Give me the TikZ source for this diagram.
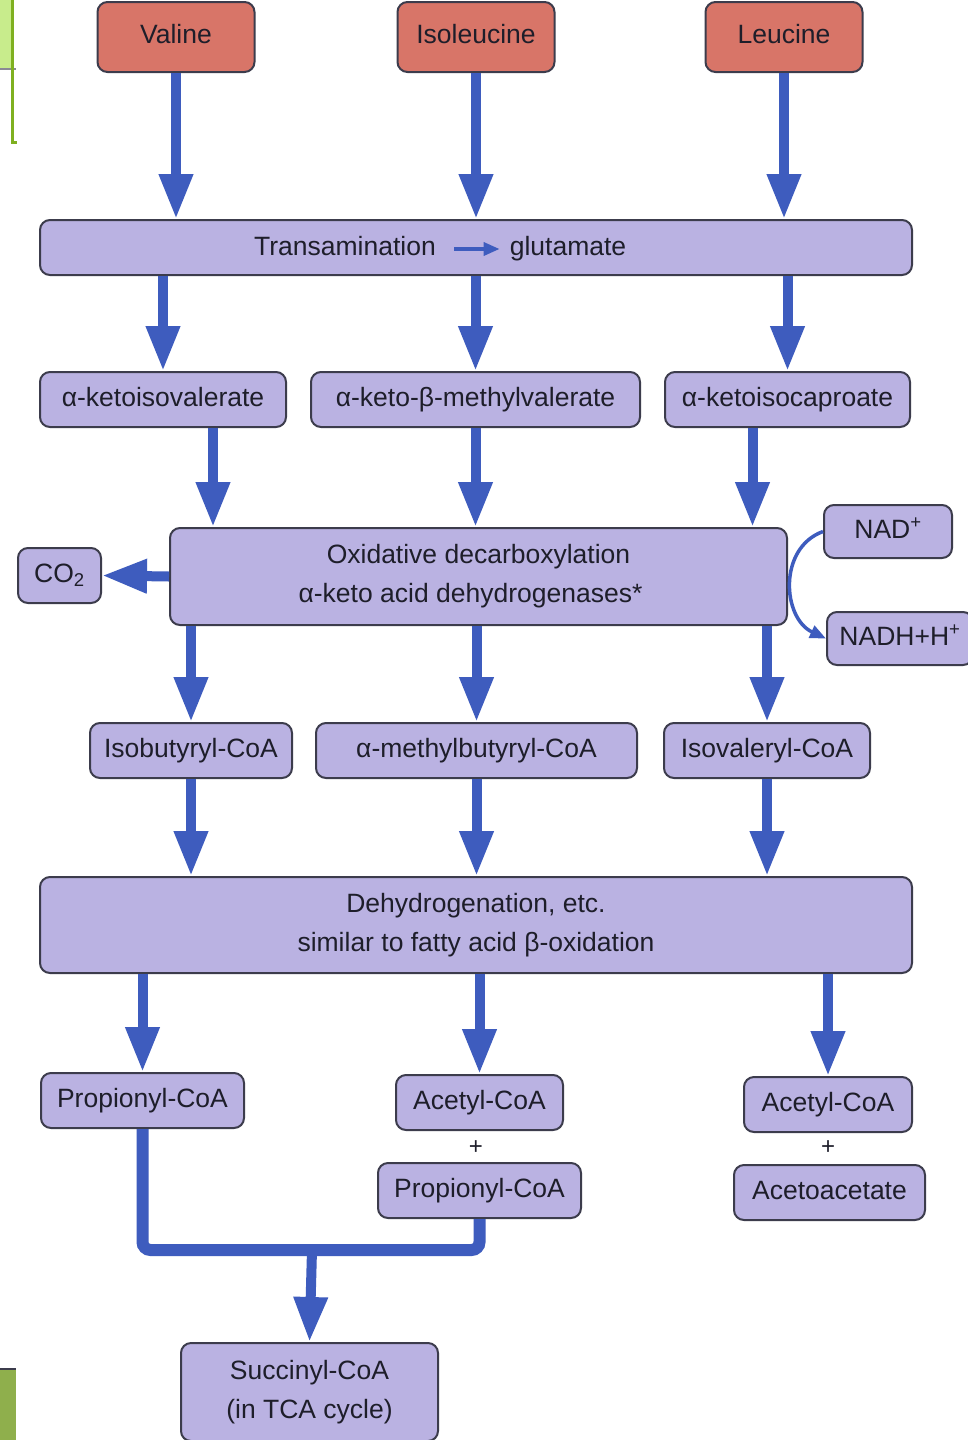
\documentclass[tikz,border=0pt]{standalone}
\usepackage{fontspec}
\setmainfont{Liberation Sans}
\usetikzlibrary{arrows.meta}
\definecolor{aafill}{HTML}{D87568}
\definecolor{metfill}{HTML}{BAB2E2}
\definecolor{edge}{HTML}{3C3C4C}
\definecolor{flowblue}{HTML}{3E5CBE}
\definecolor{ink}{HTML}{1E1E2A}
\definecolor{slidegreen}{HTML}{C8EC8C}
\definecolor{slideolive}{HTML}{8FAF4C}
\definecolor{slideline}{HTML}{7FB020}

\begin{document}
\begin{tikzpicture}[x=1pt, y=-1pt,
box/.style={draw=edge, line width=2pt, rounded corners=10pt, fill=metfill, minimum height=55pt, inner sep=0pt, align=center, text=ink, font=\fontsize{26.5}{39}\selectfont},
met/.style={box, text height=19pt, text depth=6pt},
aa/.style={met, fill=aafill, minimum width=157pt, minimum height=70pt},
lbl/.style={text=ink, inner sep=0pt, text height=19pt, text depth=6pt, font=\fontsize{26.5}{30}\selectfont},
plus/.style={lbl, text height=16pt, text depth=0pt, font=\fontsize{24}{28}\selectfont},
flow/.style={draw=flowblue, line width=10pt, -{Triangle[length=45pt, width=32pt]}},
thinflow/.style={draw=flowblue, line width=3.5pt, -{Triangle[length=16pt, width=13pt]}},
joinline/.style={draw=flowblue, line width=12pt, rounded corners=8pt}]

\useasboundingbox (0,0) rectangle (967,1440);
\fill[white] (0,0) rectangle (967,1440);
\fill[slidegreen] (0,0) rectangle (11,68);
\draw[edge!60, line width=1.5pt] (0,69) -- (16,69);
\draw[slideline, line width=3pt] (12,0) -- (12,142) -- (17,142);
\fill[slideolive] (0,1369) rectangle (16,1440);
\draw[edge, line width=1.5pt] (0,1369) -- (16,1369);

\node[aa] (val) at (176,37) {Valine};
\node[aa] (ile) at (476,37) {Isoleucine};
\node[aa] (leu) at (784,37) {Leucine};
\node[box, minimum width=872pt] (trans) at (476,247.5) {};
\node[lbl] (transtxt) at (345,249) {Transamination};
\node[lbl] (glu) at (568,249) {glutamate};
\node[met, minimum width=246pt] (kiv) at (163,399.5) {α-ketoisovalerate};
\node[met, minimum width=329pt] (kmv) at (475.5,399.5) {α-keto-β-methylvalerate};
\node[met, minimum width=245pt] (kic) at (787.5,399.5) {α-ketoisocaproate};
\node[box, minimum width=617pt, minimum height=97pt] (oxid) at (478.5,576.5) {Oxidative decarboxylation\\α-keto acid dehydrogenases*\hspace*{16pt}};
\node[met, minimum width=83pt] (co2) at (59.5,575.5) {CO\textsubscript{2}};
\node[met, minimum width=128pt, minimum height=53pt] (nad) at (888,531.5) {NAD\textsuperscript{+}};
\node[met, minimum width=146pt, minimum height=53pt] (nadh) at (900,638.5) {NADH+H\textsuperscript{+}};
\node[met, minimum width=202pt] (isob) at (191,750.5) {Isobutyryl-CoA};
\node[met, minimum width=321pt] (mbc) at (476.5,750.5) {α-methylbutyryl-CoA};
\node[met, minimum width=206pt] (isov) at (767,750.5) {Isovaleryl-CoA};
\node[box, minimum width=872pt, minimum height=96pt] (dehyd) at (476,925) {Dehydrogenation, etc.\\similar to fatty acid β-oxidation};
\node[met, minimum width=203pt] (prop) at (142.5,1100.5) {Propionyl-CoA};
\node[met, minimum width=167pt] (acet) at (479.5,1102.5) {Acetyl-CoA};
\node[plus] (plusa) at (476,1146) {+};
\node[met, minimum width=203pt] (propb) at (479.5,1190.5) {Propionyl-CoA};
\node[met, minimum width=168pt] (acetb) at (828,1104.5) {Acetyl-CoA};
\node[plus] (plusb) at (828,1146) {+};
\node[met, minimum width=191pt] (acac) at (829.5,1192.5) {Acetoacetate};
\node[box, minimum width=257pt, minimum height=98pt] (succ) at (309.5,1392) {Succinyl-CoA\\(in TCA cycle)};
\coordinate (merge) at (312,1250);

\draw[flow] (val.south) -- (val.south |- trans.north);
\draw[flow] (ile.south) -- (ile.south |- trans.north);
\draw[flow] (leu.south) -- (leu.south |- trans.north);
\draw[thinflow] ([xshift=18pt]transtxt.east) -- ([xshift=-10pt]glu.west);
\draw[flow] (kiv.north |- trans.south) -- (kiv.north);
\draw[flow] (kmv.north |- trans.south) -- (kmv.north);
\draw[flow] (kic.north |- trans.south) -- (kic.north);
\draw[flow] ([xshift=50pt]kiv.south) -- ([xshift=50pt]kiv.south |- oxid.north);
\draw[flow] (kmv.south) -- (kmv.south |- oxid.north);
\draw[flow] ([xshift=-35pt]kic.south) -- ([xshift=-35pt]kic.south |- oxid.north);
\draw[flow] (oxid.west) -- (co2.east);
\draw[thinflow] (nad.west) to[out=200, in=155, looseness=1.15] (nadh.west);
\draw[flow] (isob.north |- oxid.south) -- (isob.north);
\draw[flow] (mbc.north |- oxid.south) -- (mbc.north);
\draw[flow] (isov.north |- oxid.south) -- (isov.north);
\draw[flow] (isob.south) -- (isob.south |- dehyd.north);
\draw[flow] (mbc.south) -- (mbc.south |- dehyd.north);
\draw[flow] (isov.south) -- (isov.south |- dehyd.north);
\draw[flow] (prop.north |- dehyd.south) -- (prop.north);
\draw[flow] (acet.north |- dehyd.south) -- (acet.north);
\draw[flow] (acetb.north |- dehyd.south) -- (acetb.north);
\draw[joinline] (prop.south) |- (merge) -| (propb.south);
\draw[flow] (merge) -- (succ.north);
\end{tikzpicture}
\end{document}
